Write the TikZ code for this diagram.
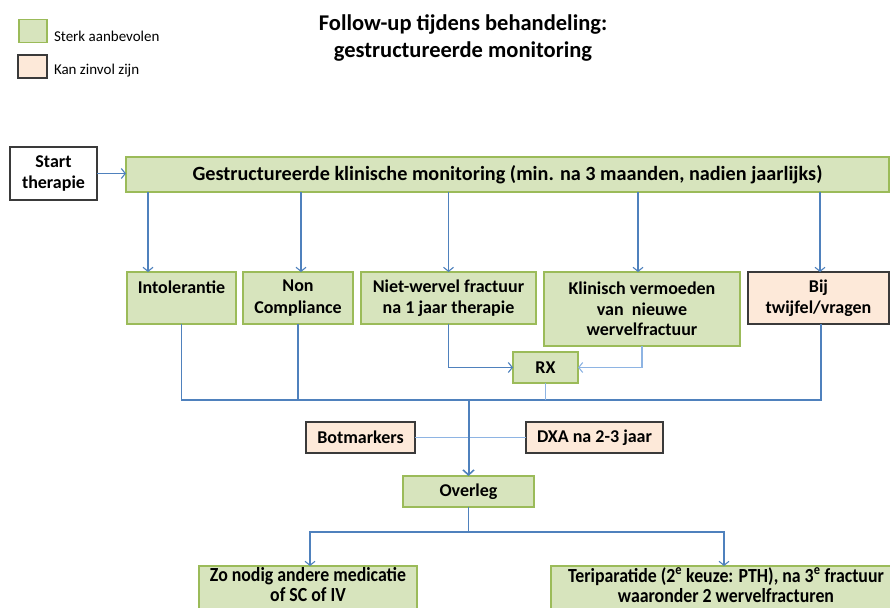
\documentclass[tikz,border=0pt]{standalone}
\usepackage{fontspec}
\setmainfont{Carlito}
\usetikzlibrary{arrows.meta,calc}
\definecolor{gfill}{HTML}{D7E4BD}
\definecolor{gdraw}{HTML}{9BBB59}
\definecolor{pfill}{HTML}{FDE9D9}
\definecolor{pdraw}{HTML}{3A3A3A}
\definecolor{conn}{HTML}{4F81BD}
\definecolor{connl}{HTML}{8EB4E3}
\newcommand{\cond}[1]{\scalebox{0.89}[1]{#1}}
\begin{document}
\begin{tikzpicture}[x=1pt,y=-1pt,
  every node/.style={inner sep=0pt, outer sep=0pt},
  box/.style={draw, line width=1.2pt, align=center, font=\bfseries\fontsize{18}{21.5}\selectfont},
  gbox/.style={box, fill=gfill, draw=gdraw},
  pbox/.style={box, fill=pfill, draw=pdraw},
  wbox/.style={box, fill=white, draw=pdraw},
  txt/.style={align=center, font=\bfseries\fontsize{20}{20}\selectfont},
  legtxt/.style={anchor=west, font=\fontsize{15}{17}\selectfont},
  conline/.style={draw=conn, line width=1.1pt},
  lightline/.style={draw=connl, line width=1.1pt},
  arr/.style={conline, -{Straight Barb[length=4pt,width=10pt,line width=1.1pt]}},
  bigarr/.style={draw=conn, line width=2pt, -{Straight Barb[length=5pt,width=11pt,line width=1.6pt]}}]
\useasboundingbox (0,0) rectangle (890,607);
\clip (0,0) rectangle (890,607);
% legend
\node[gbox, minimum width=28, minimum height=23] (lg) at (33,31) {};
\node[legtxt] (lgt) at (54,36) {Sterk aanbevolen};
\node[pbox, minimum width=29, minimum height=23] (lp) at (32.5,66.5) {};
\node[legtxt] (lpt) at (54,71) {Kan zinvol zijn};
% title
\node[align=center, font=\bfseries\fontsize{22.5}{27}\selectfont] (title) at (463,38) {Follow-up tijdens behandeling:\\gestructureerde monitoring};
% row 1
\node[wbox, minimum width=87, minimum height=53] (start) at (53.5,173.5) {Start\\therapie};
\node[gbox, minimum width=763, minimum height=35, font=\bfseries\fontsize{20.2}{22}\selectfont] (main) at (507.5,174.5) {Gestructureerde klinische monitoring (min. na 3 maanden, nadien jaarlijks)};
% row 2
\node[gbox, minimum width=109, minimum height=52] (intol) at (181.5,298) {Intolerantie\\\mbox{}};
\node[gbox, minimum width=110, minimum height=52] (noncomp) at (298,298) {Non\\Compliance};
\node[gbox, minimum width=175, minimum height=52] (nietw) at (448.5,298) {Niet-wervel fractuur\\na 1 jaar therapie};
\node[gbox, minimum width=196, minimum height=74, font=\bfseries\fontsize{18}{20.5}\selectfont] (klin) at (642,309) {Klinisch vermoeden\\van\ \ nieuwe\\wervelfractuur};
\node[pbox, minimum width=141, minimum height=52] (bij) at (818.5,298) {Bij\\twijfel/vragen};
% middle
\node[gbox, minimum width=65, minimum height=31] (rx) at (545.5,367.5) {RX};
\node[pbox, minimum width=109, minimum height=31] (botm) at (360.5,437.5) {Botmarkers};
\node[pbox, minimum width=137, minimum height=31] (dxa) at (594.5,437.5) {DXA na 2-3 jaar};
\node[gbox, minimum width=131, minimum height=31] (overleg) at (468.5,491.5) {Overleg};
% bottom
\node[gbox, minimum width=218, minimum height=52, anchor=north] (med) at (308,566) {};
\node[txt] (medt) at (308,585) {\cond{Zo nodig andere medicatie}\\\cond{of SC of IV}};
\node[gbox, minimum width=345, minimum height=52, anchor=north] (teri) at (723.5,566) {};
\node[txt] (terit) at (726,585) {\cond{Teriparatide (2\textsuperscript{e} keuze: PTH), na 3\textsuperscript{e} fractuur}\\\cond{waaronder 2 wervelfracturen}};
% connectors
\draw[arr] (start.east) -- (start.east -| main.west);
\path ([xshift=21pt]intol.north west) coordinate (t1);
\draw[arr] (main.south -| t1) -- (t1);
\path ([xshift=3pt]noncomp.north) coordinate (t2);
\draw[arr] (main.south -| t2) -- (t2);
\draw[arr] (main.south -| nietw.north) -- (nietw.north);
\path ([xshift=-4pt]klin.north) coordinate (t4);
\draw[arr] (main.south -| t4) -- (t4);
\path ([xshift=1.5pt]bij.north) coordinate (t5);
\draw[arr] (main.south -| t5) -- (t5);
\coordinate (jn) at (468.5,400);
\path ([xshift=2.5pt]bij.south) coordinate (b5);
\draw[conline] (intol.south) -- (intol.south |- jn) -- (b5 |- jn) -- (b5);
\draw[conline] (noncomp.south) -- (noncomp.south |- jn);
\draw[lightline] (rx.south) -- (rx.south |- jn);
\draw[arr] (nietw.south) |- (rx.west);
\draw[arr, draw=connl] (klin.south) |- (rx.east);
\draw[lightline] (botm.east) -- (dxa.west);
\draw[bigarr] (jn) -- (overleg.north);
\coordinate (jb) at (468.5,532);
\draw[conline] (overleg.south) -- (jb);
\path ([xshift=2pt]med.north) coordinate (m1);
\path ([xshift=0.5pt]teri.north) coordinate (m2);
\draw[arr] (jb) -| (m1);
\draw[arr] (jb) -| (m2);
\end{tikzpicture}
\end{document}
